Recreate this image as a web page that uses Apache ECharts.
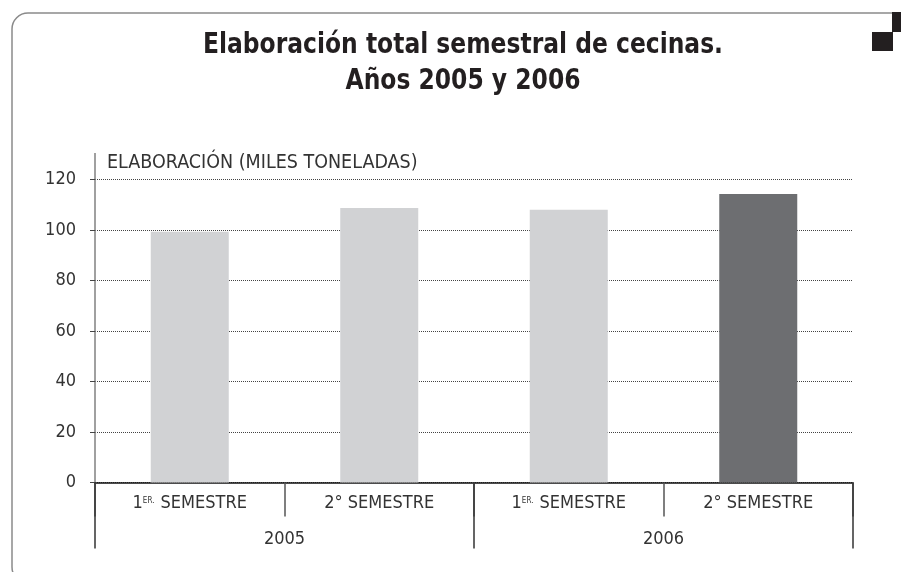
<!DOCTYPE html>
<html>
<head>
<meta charset="utf-8">
<script src="https://cdn.jsdelivr.net/npm/echarts@6/dist/echarts.min.js"></script>
<style>html,body{margin:0;padding:0;background:#fff;}#c{width:901px;height:572px;}</style>
</head>
<body>
<div id="c"></div>
<script>
var titleLines = ['Elaboración total semestral de cecinas.', 'Años 2005 y 2006'];
var yAxisName = 'ELABORACIÓN (MILES TONELADAS)';
var semesters = ['1ER. SEMESTRE', '2° SEMESTRE', '1ER. SEMESTRE', '2° SEMESTRE'];
var years = ['2005', '2006'];
var values = [99.3, 108.7, 108.0, 114.3];
var barColors = ['#d1d2d4', '#d1d2d4', '#d1d2d4', '#6d6e71'];
var yTicks = [0, 20, 40, 60, 80, 100, 120];

var FONT = '"Liberation Sans Narrow", "DejaVu Sans Condensed", sans-serif';
var chart = echarts.init(document.getElementById('c'));
chart.setOption({
  animation: false,
  backgroundColor: '#fff',
  grid: { left: 95, right: 48, top: 179.5, bottom: 89.5, containLabel: false },
  xAxis: [{
    type: 'category',
    data: semesters,
    position: 'bottom',
    boundaryGap: true,
    axisLine: { show: true, lineStyle: { color: '#111', width: 1.5 } },
    axisTick: { show: true, interval: 0, length: 34, alignWithLabel: false, lineStyle: { color: '#555', width: 1.5 } },
    axisLabel: {
      interval: 0, margin: 11, color: '#333', fontFamily: FONT, fontSize: 18, lineHeight: 20,
      formatter: function (v) { return v.indexOf('1ER.') === 0 ? '1{sup|ER.}' + v.slice(4) : v; },
      rich: { sup: { fontSize: 8, fontFamily: FONT, color: '#333', verticalAlign: 'top', lineHeight: 20, padding: [3, 1, 0, 0] } }
    },
    splitLine: { show: false }
  }, {
    type: 'category',
    data: years,
    position: 'bottom',
    boundaryGap: true,
    axisLine: { show: false },
    axisTick: { show: true, interval: 0, length: 66, alignWithLabel: false, lineStyle: { color: '#333', width: 1.5 } },
    axisLabel: { interval: 0, margin: 46.5, color: '#333', fontFamily: FONT, fontSize: 18, lineHeight: 20 },
    splitLine: { show: false }
  }],
  yAxis: {
    type: 'value',
    min: yTicks[0],
    max: yTicks[yTicks.length - 1],
    interval: yTicks[1] - yTicks[0],
    name: yAxisName,
    nameLocation: 'end',
    nameGap: 7,
    nameTextStyle: { color: '#333', fontFamily: FONT, fontSize: 19.5, align: 'left', verticalAlign: 'bottom', padding: [0, 0, 0, 12] },
    axisLine: { show: true, lineStyle: { color: '#808080', width: 1.5 } },
    axisTick: { show: true, length: 5, lineStyle: { color: '#444', width: 1 } },
    axisLabel: { margin: 19, color: '#333', fontFamily: FONT, fontSize: 18 },
    splitLine: { show: true, lineStyle: { color: '#444', width: 1, type: [1, 1] } }
  },
  series: [{
    type: 'bar',
    barWidth: 78,
    xAxisIndex: 0,
    data: values.map(function (v, i) { return { value: v, itemStyle: { color: barColors[i] } }; })
  }],
  graphic: [
    { type: 'rect', silent: true, z: -1, shape: { x: 12, y: 13, width: 1000, height: 570, r: 16 }, style: { fill: null, stroke: '#8a8a8a', lineWidth: 1.5 } },
    { type: 'rect', silent: true, shape: { x: 892, y: 12, width: 10, height: 20 }, style: { fill: '#231f20' } },
    { type: 'rect', silent: true, shape: { x: 872, y: 32, width: 21, height: 19 }, style: { fill: '#231f20' } },
    { type: 'line', silent: true, shape: { x1: 95, y1: 153, x2: 95, y2: 180 }, style: { stroke: '#808080', lineWidth: 1.5 } },
    { type: 'text', silent: true, x: 463, y: 28, scaleX: 0.93, style: { text: titleLines.join('\n'), align: 'center', verticalAlign: 'top', fill: '#231f20', font: 'bold 28px ' + FONT, lineHeight: 36 } }
  ]
});
</script>
</body>
</html>
